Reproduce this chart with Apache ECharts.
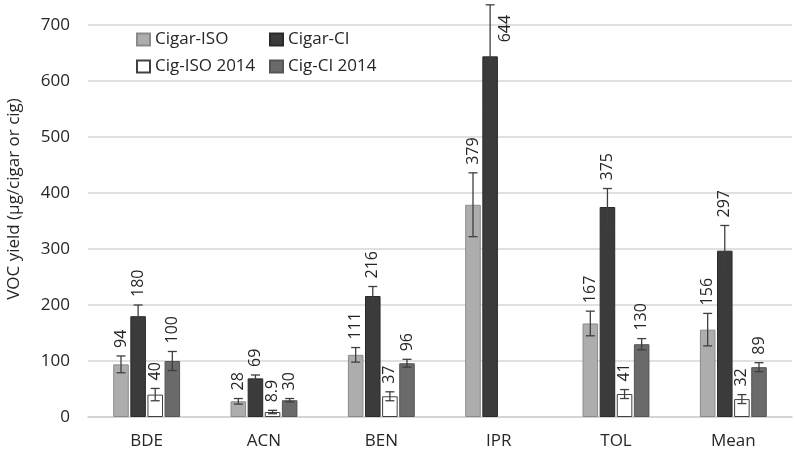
<!DOCTYPE html>
<html>
<head>
<meta charset="utf-8">
<script src="https://cdn.jsdelivr.net/npm/echarts@6/dist/echarts.min.js"></script>
<style>
html,body{margin:0;padding:0;background:#fff;}
#chart{width:795px;height:453px;}
</style>
</head>
<body>
<div id="chart"></div>
<script>
const categories = ['BDE', 'ACN', 'BEN', 'IPR', 'TOL', 'Mean'];
const seriesNames = ['Cigar-ISO', 'Cigar-CI', 'Cig-ISO 2014', 'Cig-CI 2014'];
const cigarISO = [94, 28, 111, 379, 167, 156];
const cigarISOErr = [15, 5, 13, 57, 22, 29];
const cigarCI = [180, 69, 216, 644, 375, 297];
const cigarCIErr = [20, 6, 17, 92, 33, 45];
const cigISO2014 = [40, 8.9, 37, null, 41, 32];
const cigISO2014Err = [11, 3, 8, null, 8, 8];
const cigCI2014 = [100, 30, 96, null, 130, 89];
const cigCI2014Err = [17, 3, 7, null, 10, 8];
const yTicks = [0, 100, 200, 300, 400, 500, 600, 700];
const yTitle = 'VOC yield (µg/cigar or cig)';

const values = [cigarISO, cigarCI, cigISO2014, cigCI2014];
const errors = [cigarISOErr, cigarCIErr, cigISO2014Err, cigCI2014Err];
const colors = ['#adadad', '#3b3b3b', '#ffffff', '#6a6a6a'];
const borders = ['#8a8a8a', '#2a2a2a', '#404040', '#555555'];

const CAT_GAP = 0.43, BAR_GAP = 0.1, N = 4;
const FONT = '"Open Sans", "Liberation Sans", sans-serif';
const YMAX = yTicks[yTicks.length - 1];

const chart = echarts.init(document.getElementById('chart'), null, {renderer: 'canvas'});

const series = [];
values.forEach((vals, k) => {
  series.push({
    name: seriesNames[k],
    type: 'bar',
    data: vals,
    barGap: (BAR_GAP * 100) + '%',
    barCategoryGap: (CAT_GAP * 100) + '%',
    itemStyle: {color: colors[k], borderColor: borders[k], borderWidth: 1},
    z: 2
  });
});
values.forEach((vals, k) => {
  const data = [];
  vals.forEach((v, i) => { if (v !== null) data.push([i, v, errors[k][i]]); });
  series.push({
    type: 'custom',
    name: seriesNames[k] + '-err',
    data: data,
    encode: {x: 0, y: 1},
    z: 5,
    silent: true,
    clip: false,
    renderItem: function (params, api) {
      const i = api.value(0), v = api.value(1), e = api.value(2);
      const band = api.size([1, 0])[0];
      const groupW = band * (1 - CAT_GAP);
      const w = groupW / (N + (N - 1) * BAR_GAP);
      const center = api.coord([i, 0])[0];
      const x = center - groupW / 2 + k * w * (1 + BAR_GAP) + w / 2;
      const pTop = api.coord([i, v + e]);
      const pBot = api.coord([i, Math.max(v - e, 0)]);
      const pVal = api.coord([i, v]);
      const capW = 4.5;
      const lineStyle = {stroke: '#3f3f3f', lineWidth: 1.3};
      const children = [
        {type: 'line', shape: {x1: x, y1: pTop[1], x2: x, y2: pBot[1]}, style: lineStyle},
        {type: 'line', shape: {x1: x - capW, y1: pTop[1], x2: x + capW, y2: pTop[1]}, style: lineStyle},
        {type: 'line', shape: {x1: x - capW, y1: pBot[1], x2: x + capW, y2: pBot[1]}, style: lineStyle}
      ];
      let lx = x, ly = pTop[1] - 8;
      if (v + e > YMAX) {
        lx = x + w / 2 + 8;
        ly = pVal[1] - 14;
      }
      children.push({
        type: 'text',
        x: lx, y: ly,
        rotation: Math.PI / 2,
        style: {
          text: String(v),
          x: 0, y: 0,
          align: 'left', verticalAlign: 'middle',
          fill: '#262626',
          font: '16px ' + FONT
        }
      });
      return {type: 'group', children: children};
    }
  });
});

const legendBase = {
  orient: 'vertical', top: 25,
  itemWidth: 13, itemHeight: 12, itemGap: 8,
  textStyle: {fontSize: 17, fontFamily: FONT, color: '#262626', lineHeight: 19},
  icon: 'rect'
};

const option = {
  backgroundColor: '#ffffff',
  animation: false,
  grid: {left: 88, right: 3, top: 25, bottom: 36},
  legend: [
    Object.assign({data: [seriesNames[0], seriesNames[2]], left: 131}, legendBase),
    Object.assign({data: [seriesNames[1], seriesNames[3]], left: 264}, legendBase)
  ],
  graphic: [{
    type: 'text',
    x: 14, y: 199,
    rotation: Math.PI / 2,
    style: {
      text: yTitle,
      align: 'center', verticalAlign: 'middle',
      fill: '#262626',
      font: '17px ' + FONT
    }
  }],
  xAxis: {
    type: 'category',
    data: categories,
    axisTick: {show: false},
    axisLine: {lineStyle: {color: '#d0d0d0', width: 1.5}},
    axisLabel: {fontSize: 17, fontFamily: FONT, color: '#262626', margin: 16}
  },
  yAxis: {
    type: 'value',
    min: yTicks[0], max: YMAX, interval: 100,
    axisLine: {show: false},
    axisTick: {show: false},
    axisLabel: {fontSize: 17, fontFamily: FONT, color: '#262626', margin: 18, align: 'right'},
    splitLine: {lineStyle: {color: '#d6d6d6', width: 1.5}}
  },
  series: series
};
chart.setOption(option);
</script>
</body>
</html>
